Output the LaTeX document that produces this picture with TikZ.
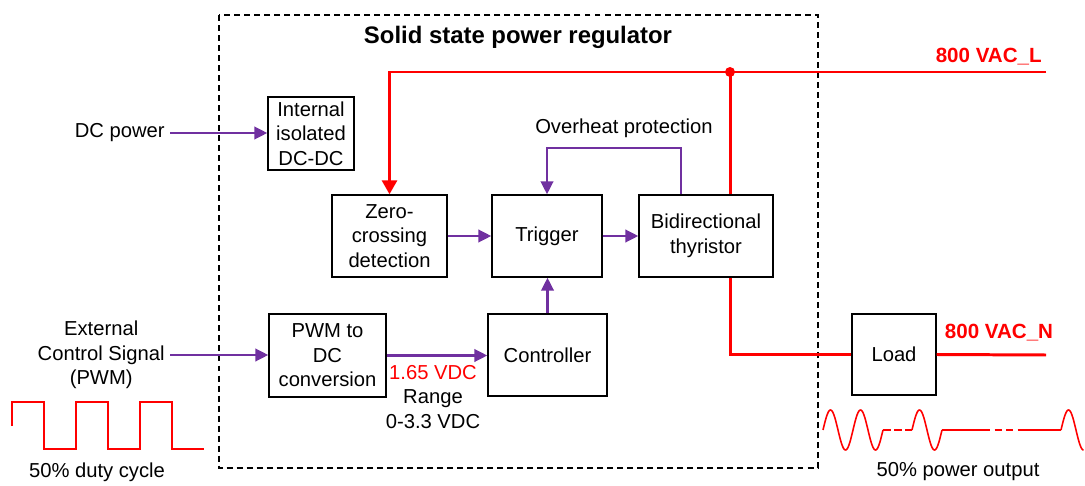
\documentclass[tikz,border=0pt]{standalone}
\usepackage{fontspec}
\setmainfont{Liberation Sans}
\usepackage{xcolor}
\usepackage{tikz}
\usetikzlibrary{arrows.meta, positioning, calc}
\definecolor{sigpurple}{RGB}{112,48,160}

\begin{document}
\begin{tikzpicture}[x=0.02cm, y=-0.02cm,
    font=\fontsize{11.5}{14}\selectfont,
    blk/.style={draw, line width=0.8pt, align=center, inner sep=1pt},
    sig/.style={sigpurple, line width=1.4pt, -{Triangle[length=2.6mm,width=2.5mm]}},
    pwr/.style={red, line width=1.7pt},
    wave/.style={red, line width=0.9pt},
    lbl/.style={align=center, inner sep=0.1cm},
    hot/.style={red, inner sep=0.1cm, font=\fontsize{11.7}{14}\selectfont\bfseries}]
    \useasboundingbox (0,0) rectangle (1085,486);

    % Regulator frame
    \draw[line width=0.8pt, dash pattern=on 3.4pt off 2.3pt] (219,15) rectangle (818,468);
    \node[font=\fontsize{13.6}{16}\selectfont\bfseries] (title) at (518,37) {Solid state power regulator};

    % Blocks
    \node[blk, minimum width=1.72cm, minimum height=1.46cm] (dcdc) at (311,133.5) {Internal\\isolated\\DC-DC};
    \node[blk, minimum width=2.3cm, minimum height=1.64cm] (zero) at (389.5,236) {Zero-\\crossing\\detection};
    \node[blk, minimum width=2.2cm, minimum height=1.64cm] (trig) at (547,236) {Trigger};
    \node[blk, minimum width=2.68cm, minimum height=1.64cm] (thy) at (706,236) {Bidirectional\\thyristor};
    \node[blk, minimum width=2.34cm, minimum height=1.66cm] (pwm) at (327.5,355.5) {PWM to\\DC\\conversion};
    \node[blk, minimum width=2.38cm, minimum height=1.64cm] (ctrl) at (547.5,355) {Controller};
    \node[blk, minimum width=1.68cm, minimum height=1.62cm] (load) at (894,354.5) {Load};

    % Labels
    \node[lbl, anchor=east] (dcin) at (170,133) {DC power};
    \node[lbl, anchor=east] (ext) at (170,355) {External\\Control Signal\\(PWM)};
    \node[lbl] (vdc) at (433,397) {\textcolor{red}{1.65 VDC}\\Range\\0-3.3 VDC};
    \node[lbl] (oh) at (624,128) {Overheat protection};
    \node[hot, anchor=east] (vacl) at (1047,57) {800 VAC\_L};
    \node[hot] (vacn) at (999,333) {800 VAC\_N};
    \node[lbl] (duty) at (97,472) {50\% duty cycle};
    \node[lbl] (pout) at (958,472) {50\% power output};

    % Signal paths
    \draw[sig] (dcin.east) -- (dcin.east -| dcdc.west);
    \draw[sig] (ext.east) -- (ext.east -| pwm.west);
    \draw[sig] (zero) -- (trig);
    \draw[sig] (trig) -- (thy);
    \draw[sig] (pwm.east) -- (pwm.east -| ctrl.west);
    \draw[sig] (ctrl.north) -- (ctrl.north |- trig.south);

    % Overheat loop
    \coordinate (ohtop) at (681,148);
    \draw[sig] (ohtop |- thy.north) -- (ohtop) -| (trig.north);

    % AC lines
    \coordinate (jn) at (730,72);
    \coordinate (lend) at (1046,72);
    \coordinate (nend) at (1046,355);
    \draw[pwr, -{Triangle[length=2.8mm,width=3mm]}] (lend) -- (zero.north |- jn) -- (zero.north);
    \fill[red] (jn) circle (0.1cm);
    \draw[pwr] (jn) -- (jn |- thy.north);
    \draw[pwr] (jn |- thy.south) -- (jn |- load.west) -- (load.west);
    \draw[pwr] (load.east) -- (nend);

    % PWM input waveform
    \draw[wave] (12,426) |- (44,402) |- (76,449) |- (108,402) |- (140,449) |- (172,402) |- (204,449);

    % Output waveform
    \draw[wave] plot[domain=823:883, samples=80] (\x, {430-20*sin(12*(\x-823))});
    \draw[wave, dash pattern=on 0.15cm off 0.07cm] (883,430) -- (912,430);
    \draw[wave] plot[domain=912:942, samples=40] (\x, {430-20*sin(12*(\x-912))});
    \draw[wave] (942,430) -- (983,430);
    \draw[wave, dash pattern=on 0.14cm off 0.09cm] (983,430) -- (1018,430);
    \draw[wave] (1018,430) -- (1061,430);
    \draw[wave] plot[domain=1061:1083.5, samples=40] (\x, {430-20*sin(12*(\x-1061))});
\end{tikzpicture}
\end{document}
